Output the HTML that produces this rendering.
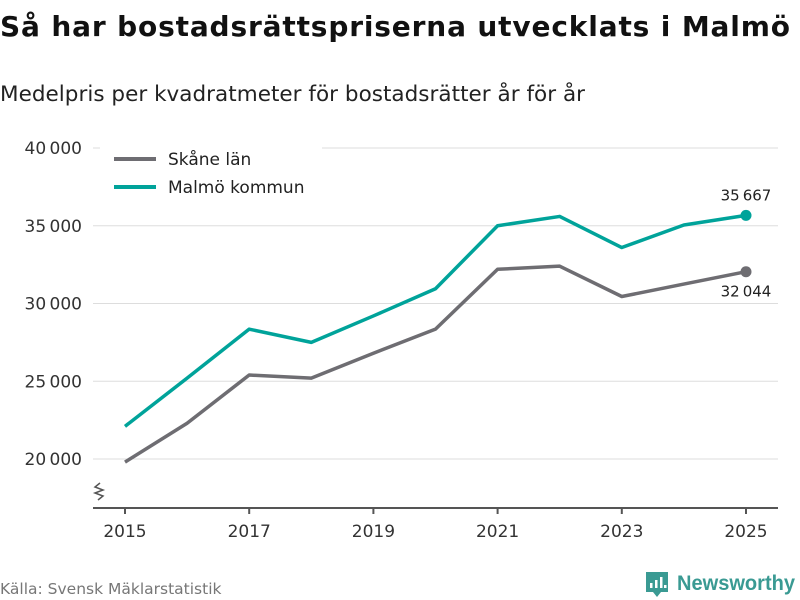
<!DOCTYPE html>
<html><head><meta charset="utf-8"><style>
body{margin:0;background:#fff;font-family:"DejaVu Sans","Liberation Sans",sans-serif;}
svg{display:block}
</style></head><body>
<svg id="c" width="800" height="600" xmlns="http://www.w3.org/2000/svg">
<text x="0" y="36" font-size="28" font-weight="bold" fill="#111" textLength="790" lengthAdjust="spacing">Så har bostadsrättspriserna utvecklats i Malmö</text>
<text x="0" y="101" font-size="21.5" fill="#222" textLength="585" lengthAdjust="spacing">Medelpris per kvadratmeter för bostadsrätter år för år</text>
<g id="grid"></g><g id="series"></g>
<g>
<rect x="100" y="146" width="222" height="56" fill="#fff"/>
<line x1="114" y1="159" x2="156" y2="159" stroke="#6e6d72" stroke-width="4"/>
<text x="168" y="165" font-size="17" fill="#222">Skåne län</text>
<line x1="114" y1="187" x2="156" y2="187" stroke="#00a39a" stroke-width="4"/>
<text x="168" y="193" font-size="17" fill="#222">Malmö kommun</text>
</g>
<text x="0" y="594" font-size="15.5" fill="#777">Källa: Svensk Mäklarstatistik</text>
<g>
<path d="M646 572 h22 v20 h-7 l-4 5 l-4 -5 h-7 z" fill="#3a9a93"/>
<rect x="650" y="583" width="2.5" height="5" fill="#fff"/><rect x="655" y="580" width="2.5" height="8" fill="#fff"/><rect x="660" y="577" width="2.5" height="11" fill="#fff"/><rect x="664" y="585" width="2.5" height="3" fill="#fff"/>
<text x="677" y="590" font-family="Liberation Sans, sans-serif" font-size="21" font-weight="bold" fill="#3a9a93" textLength="118" lengthAdjust="spacingAndGlyphs">Newsworthy</text>
</g>
</svg>
<script>
const years=[2015,2016,2017,2018,2019,2020,2021,2022,2023,2024,2025];
const skane=[19800,22300,25400,25200,26800,28350,32200,32400,30450,31250,32044];
const malmo=[22100,25200,28350,27500,29200,30950,35000,35600,33600,35050,35667];
const yTicks=[20000,25000,30000,35000,40000];
const xTicks=[2015,2017,2019,2021,2023,2025];
const NS="http://www.w3.org/2000/svg";
const X=v=>125+(v-2015)*62.1;
const Y=v=>459-(v-20000)*0.01555;
const fmt=v=>String(v).replace(/\B(?=(\d{3})+$)/g,"\u2009");
function mk(t,a,p){const e=document.createElementNS(NS,t);for(const k in a)e.setAttribute(k,a[k]);p.appendChild(e);return e;}
const g=document.getElementById('grid'),s=document.getElementById('series');
yTicks.forEach(v=>{
 const l=mk('line',{x1:93,x2:778,y1:Y(v),y2:Y(v),stroke:'#ddd','stroke-width':1},g);
 
 
 const t=mk('text',{x:82,y:Y(v)+6,'text-anchor':'end','font-size':17,fill:'#333'},g);t.textContent=fmt(v);
 
 
});
const ax=mk('line',{x1:93,x2:778,y1:508,y2:508,stroke:'#555','stroke-width':2},g);


const zz=mk('path',{d:'M100 483 l-5 4 l8 3 l-8 3 l8 3 l-5 4',fill:'none',stroke:'#555','stroke-width':1.5},g);


xTicks.forEach(v=>{
 const tk=mk('line',{x1:X(v),x2:X(v),y1:508,y2:514,stroke:'#555','stroke-width':2},g);
 
 
 const t=mk('text',{x:X(v),y:537,'text-anchor':'middle','font-size':17,fill:'#333'},g);t.textContent=v;
 
 
});
function line(vals,col,name,labelDy){
 const p=mk('polyline',{points:vals.map((v,i)=>X(years[i])+','+Y(v)).join(' '),fill:'none',stroke:col,'stroke-width':3.5,'stroke-linejoin':'round'},s);
 
 
 const n=vals.length-1;
 const c=mk('circle',{cx:X(years[n]),cy:Y(vals[n]),r:5.5,fill:col},s);
 
 
 const t=mk('text',{x:X(years[n]),y:Y(vals[n])+labelDy,'text-anchor':'middle','font-size':15,fill:'#222'},s);t.textContent=fmt(vals[n]);
 
 
}
line(skane,'#6e6d72','skane',25);
line(malmo,'#00a39a','malmo',-15);
</script>
</body></html>
